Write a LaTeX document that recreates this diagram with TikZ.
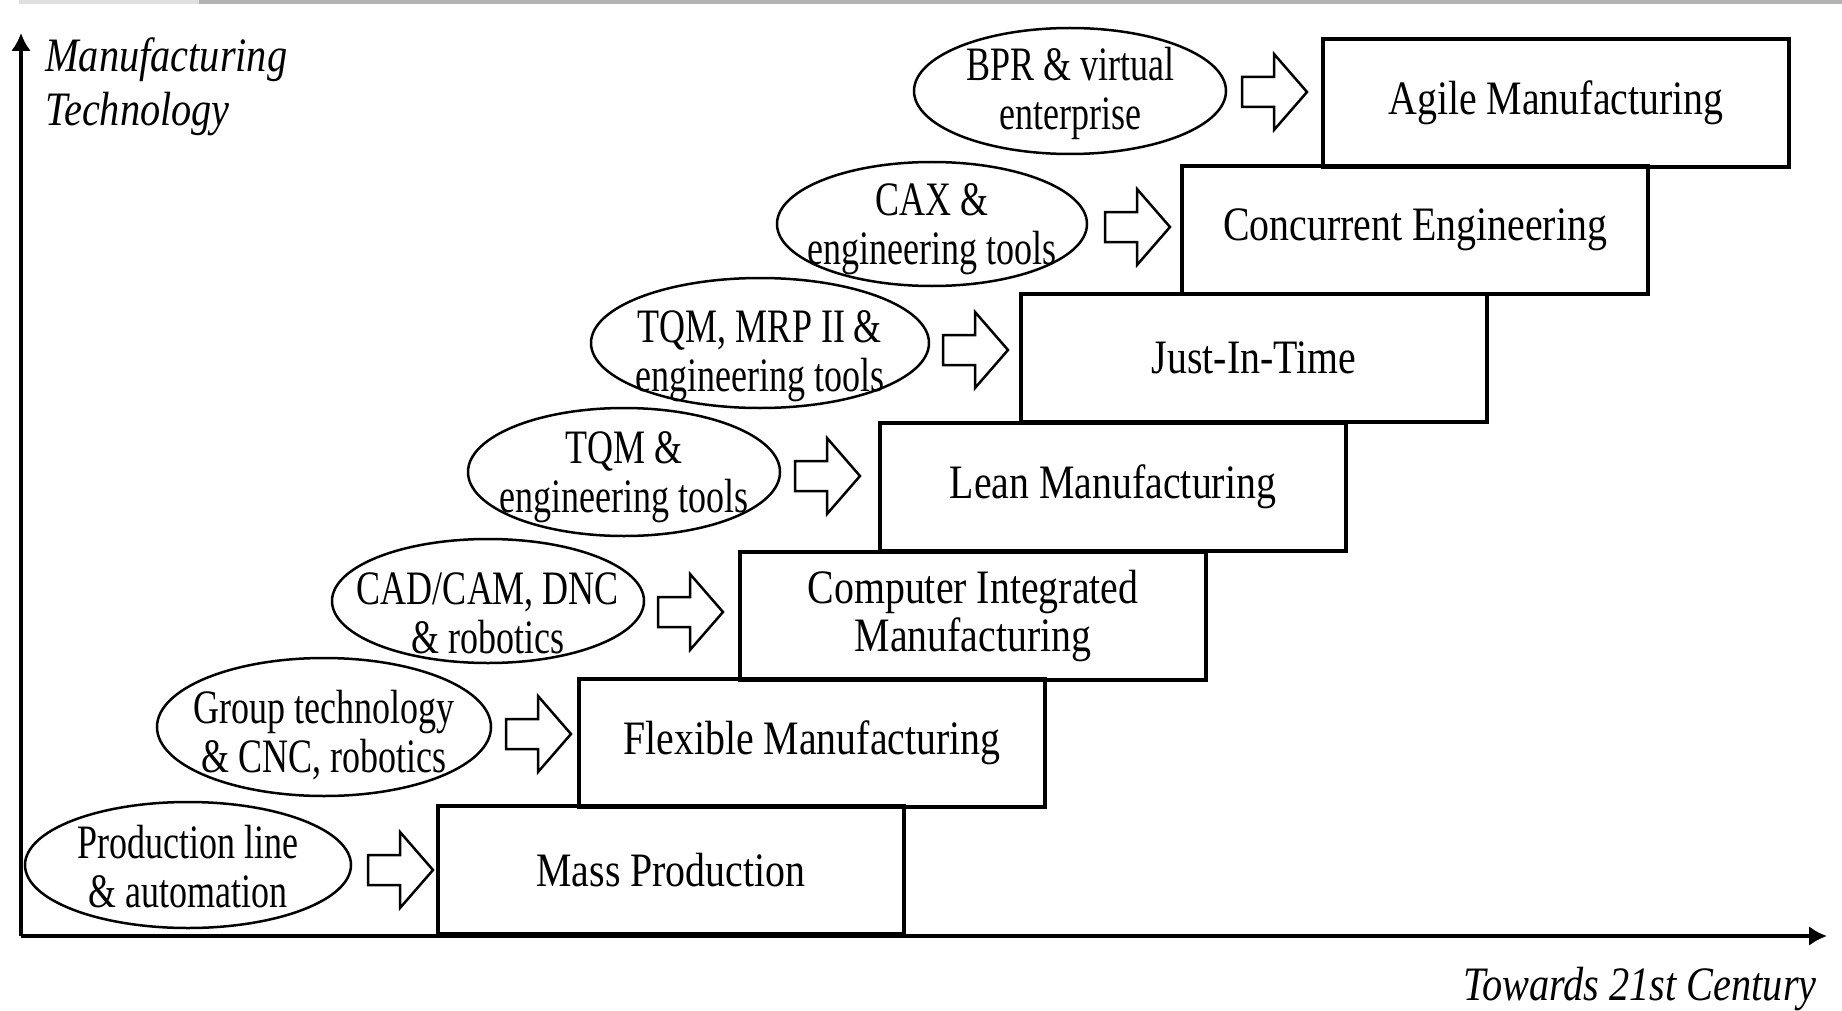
\documentclass[tikz,border=0pt]{standalone}
\usepackage{fontspec}
\setmainfont{Liberation Serif}
\newfontfamily\boxfont{Liberation Serif}[FakeStretch=0.83]
\newfontfamily\ellfont{Liberation Serif}[FakeStretch=0.75]
\newfontfamily\axfont{Liberation Serif}[FakeStretch=0.84]
\usetikzlibrary{shapes.geometric,arrows.meta,calc}

\tikzset{
  stage/.style={draw, line width=2pt, rectangle, inner sep=0pt,
    minimum width=233pt, minimum height=64pt, align=center,
    font=\boxfont\fontsize{24}{24}\selectfont},
  enabler/.style={draw, line width=1.25pt, ellipse, inner sep=0pt},
  entext/.style={inner sep=0pt, align=center,
    font=\ellfont\fontsize{24}{24.5}\selectfont},
  axis/.style={line width=2pt, -{Latex[length=9pt,width=10pt]}},
  axlabel/.style={inner sep=0pt, align=left,
    font=\axfont\itshape\fontsize{24}{27}\selectfont},
  barrow/.pic={
    \draw[line width=1.25pt, line join=miter, fill=white]
      (0,-15) -- (32,-15) -- (32,-38) -- (65,0) -- (32,38) -- (32,15) -- (0,15) -- cycle;
  },
}

\begin{document}
\begin{tikzpicture}[x=0.5pt,y=-0.5pt]
\useasboundingbox (0,0) rectangle (1842,1011);

% thin grey strip along the upper edge
\fill[black!12] (19,0) rectangle (199,4);
\fill[black!30] (199,0) rectangle (1842,4);

% axes
\coordinate (O) at (21,936);
\coordinate (ytop) at (21,33);
\coordinate (xend) at (1827,936);
\draw[axis] (O) -- (ytop);
\draw[axis] (O) -- (xend);
\node[axlabel, anchor=north west] (ylab) at (45,37) {Manufacturing\\Technology};
\node[axlabel, anchor=base east] (xlab) at (1817,1000) {Towards 21st Century};

% manufacturing paradigms, one step per era
\node[stage] (b1) at (671,870) {Mass Production};
\node[stage] (b2) at (812,743) {Flexible Manufacturing};
\node[stage] (b3) at (973,616) {Computer Integrated\\Manufacturing};
\node[stage] (b4) at (1113,487) {Lean Manufacturing};
\node[stage] (b5) at (1254,358) {Just-In-Time};
\node[stage] (b6) at (1415,230) {Concurrent Engineering};
\node[stage] (b7) at (1556,103) {Agile Manufacturing};

% enabling technologies: fixed-size ellipses, text set on top
\node[enabler, minimum width=163pt, minimum height=63pt] (e1) at (188,865) {};
\node[enabler, minimum width=167pt, minimum height=69pt] (e2) at (324,727) {};
\node[enabler, minimum width=156pt, minimum height=62pt] (e3) at (488,601) {};
\node[enabler, minimum width=156pt, minimum height=64pt] (e4) at (624,472) {};
\node[enabler, minimum width=169pt, minimum height=65pt] (e5) at (760,343) {};
\node[enabler, minimum width=155pt, minimum height=62pt] (e6) at (932,224) {};
\node[enabler, minimum width=156pt, minimum height=63pt] (e7) at (1070,91) {};

\node[entext] (t1) at ($(e1)+(0,2)$) {Production line\\\& automation};
\node[entext] (t2) at ($(e2)+(0,8)$) {Group technology\\\& CNC, robotics};
\node[entext] (t3) at ($(e3)+(0,12)$) {CAD/CAM, DNC\\\& robotics};
\node[entext] (t4) at ($(e4)+(0,5)$) {TQM \&\\engineering tools};
\node[entext] (t5) at ($(e5)+(0,13)$) {TQM, MRP II \&\\engineering tools};
\node[entext] (t6) at ($(e6)+(0,5)$) {CAX \&\\engineering tools};
\node[entext] (t7) at ($(e7)+(0,2)$) {BPR \& virtual\\enterprise};

% block arrows from each enabler to its paradigm
\coordinate (a1) at (368,870);
\coordinate (a2) at (506,734);
\coordinate (a3) at (658,612);
\coordinate (a4) at (795,476);
\coordinate (a5) at (943,350);
\coordinate (a6) at (1105,227);
\coordinate (a7) at (1242,92);
\foreach \i in {1,...,7} { \pic at (a\i) {barrow}; }
\end{tikzpicture}
\end{document}
